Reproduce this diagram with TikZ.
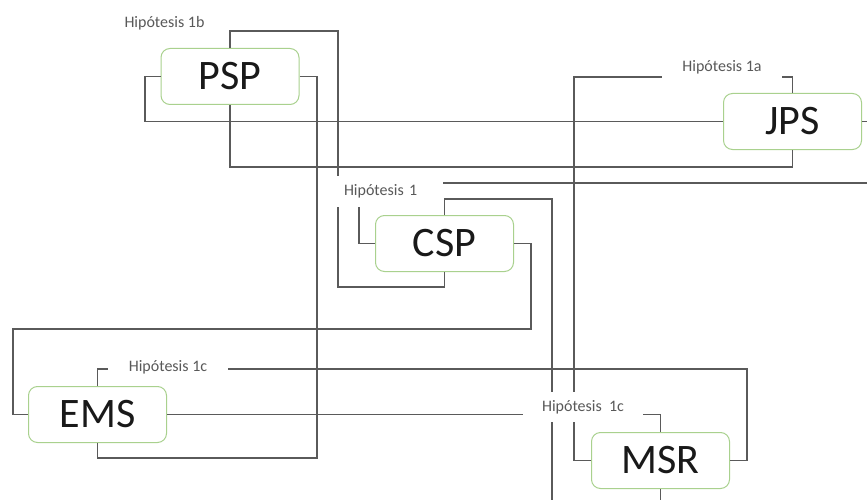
\documentclass[tikz,border=0pt]{standalone}
\usepackage{fontspec}
\setmainfont{Carlito}
\definecolor{linegray}{HTML}{5A5A5A}
\definecolor{boxgreen}{HTML}{A9D18E}
\definecolor{labgray}{HTML}{595959}
\begin{document}
\begin{tikzpicture}[x=1pt,y=-1pt,
  conn/.style={draw=linegray, line width=1.1pt},
  concept/.style={draw=boxgreen, line width=1pt, fill=white, rounded corners=9pt,
    minimum width=138pt, minimum height=56pt, inner sep=0pt,
    font=\fontsize{42}{50}\selectfont, text=black!90},
  hyp/.style={fill=white, inner sep=0pt, font=\fontsize{16}{19}\selectfont, text=labgray},
  hypgap/.style={hyp, minimum width=120pt, minimum height=30pt}]
\clip (0,0) rectangle (867,500);
\fill[white] (0,0) rectangle (867,500);

% concept boxes
\node[concept] (psp) at (230,76.5) {PSP};
\node[concept] (jps) at (792.5,121.5) {JPS};
\node[concept] (csp) at (444.5,243.5) {CSP};
\node[concept] (ems) at (97.5,414.5) {EMS};
\node[concept] (msr) at (660.5,460.5) {MSR};

% connectors
\draw[conn] (psp.north) |- (338,31) -- (338,287) -| (csp.south);
\draw[conn] (psp.east) -- (317,76.5) -- (317,458) -| (ems.south);
\draw[conn] (psp.west) -- (145,76.5) |- (jps.west);
\draw[conn] (psp.south) -- (230,167) -| (jps.south);
\draw[conn] (jps.north) -- (792.5,77) -- (574,77) |- (msr.west);
\draw[conn] (jps.east) -- (885,121.5) |- (359,183) |- (csp.west);
\draw[conn] (csp.north) |- (552,199) -- (552,520) -| (msr.south);
\draw[conn] (csp.east) -- (531,243.5) |- (13,329) |- (ems.west);
\draw[conn] (ems.north) |- (747,369) |- (msr.east);
\draw[conn] (ems.east) -| (msr.north);

% labels
\node[hyp, fill=none] (h1b) at (164.5,23) {Hipótesis 1b};
\node[hypgap] (h1a) at (722,67) {Hipótesis 1a};
\node[hyp, text width=91pt, align=left, inner xsep=8pt, minimum height=31pt] (h1) at (389.5,191.5) {Hipótesis 1};
\node[hypgap] (h1c) at (168,367) {Hipótesis 1c};
\node[hypgap] (h1cb) at (583,407) {Hipótesis~ 1c};
\end{tikzpicture}
\end{document}
